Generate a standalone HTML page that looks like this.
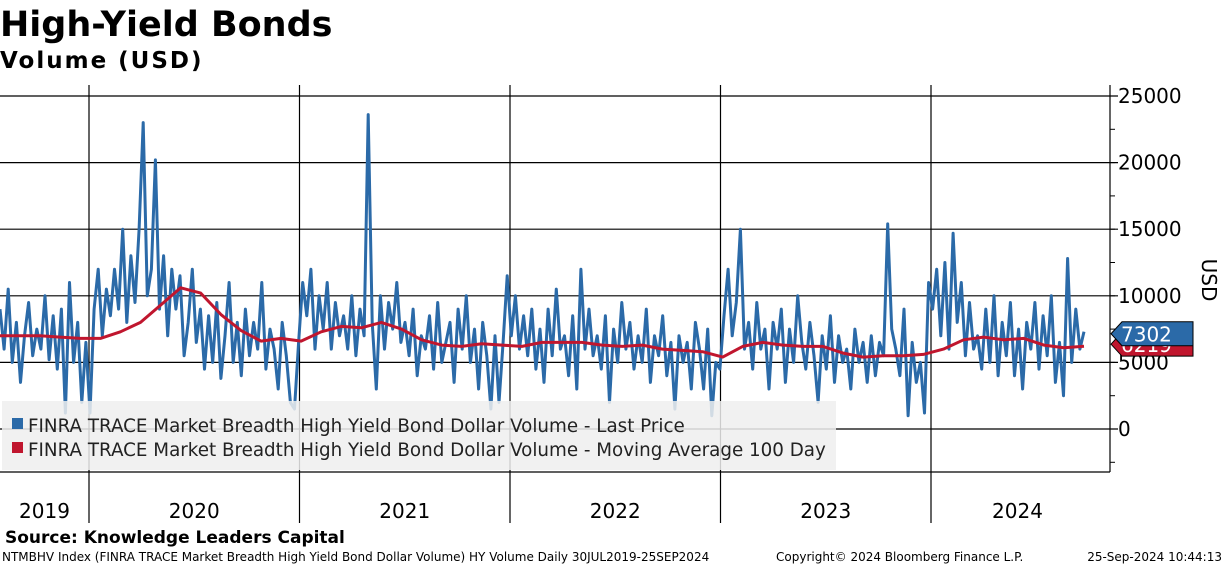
<!DOCTYPE html>
<html><head><meta charset="utf-8"><style>
body{margin:0;width:1224px;height:566px;background:#fff;overflow:hidden;font-family:"DejaVu Sans","Liberation Sans",sans-serif}
</style></head><body>
<svg id="chart" width="1224" height="566" xmlns="http://www.w3.org/2000/svg" font-family="DejaVu Sans, Liberation Sans, sans-serif">
<text x="0" y="36" font-size="35" font-weight="bold">High-Yield Bonds</text>
<text x="0" y="68" font-size="23" font-weight="bold" letter-spacing="2">Volume (USD)</text>
<g id="grid"></g>
<g id="series"></g>
<rect x="2" y="401" width="834" height="69" fill="rgb(238,238,238)" fill-opacity="0.85"/>
<rect x="12" y="418" width="11" height="11" fill="#2b6aa8"/>
<text x="28" y="432" font-size="18.3" fill="#222">FINRA TRACE Market Breadth High Yield Bond Dollar Volume - Last Price</text>
<rect x="12" y="442" width="11" height="11" fill="#c0162e"/>
<text x="28" y="456" font-size="18.3" fill="#222">FINRA TRACE Market Breadth High Yield Bond Dollar Volume - Moving Average 100 Day</text>
<g id="axis"></g>
<text transform="translate(1202,280) rotate(90)" font-size="20" text-anchor="middle">USD</text>
<g id="years"></g>
<text x="5" y="543" font-size="17" font-weight="bold">Source: Knowledge Leaders Capital</text>
<text x="2" y="561" font-size="12">NTMBHV Index (FINRA TRACE Market Breadth High Yield Bond Dollar Volume) HY Volume  Daily 30JUL2019-25SEP2024</text>
<text x="776" y="561" font-size="12">Copyright© 2024 Bloomberg Finance L.P.</text>
<text x="1222" y="561" font-size="12" text-anchor="end">25-Sep-2024 10:44:13</text>
</svg>
<script>
const yTicks=[0,5000,10000,15000,20000,25000];
const yearLabels=["2019","2020","2021","2022","2023","2024"];
const yearStarts=[2019.577,2020,2021,2022,2023,2024];
const lastPrice=[9000,6000,10500,5000,8000,3500,7000,9500,5500,7500,
6000,10000,5200,8500,4500,9000,1200,11000,5000,8000,
2000,6500,1200,9000,12000,7000,10500,8500,12000,9000,
15000,8000,13000,9500,15000,23000,10000,12000,20200,9000,
13000,7000,12000,9000,11500,5500,8000,12000,6500,9000,
4500,8500,5000,9500,3800,7000,11000,5000,8000,4000,
9000,5500,8000,6000,11000,4500,7500,6000,3000,8000,
5500,2000,1500,6500,11000,8500,12000,6000,10000,7500,
11000,6000,9500,7000,8500,6000,10000,5500,9000,7000,
23600,8000,3000,10000,6000,9500,7500,11000,6500,8000,
5500,9000,4000,7000,6000,8500,4500,9500,5000,6500,
8000,3500,9000,6000,10000,5000,7500,3000,8000,5500,
1500,7000,2000,6500,11500,7000,10000,6000,8500,5500,
9000,4500,7500,3500,9000,5500,10500,6000,7000,4000,
8500,3000,12000,6000,9000,5500,7000,4500,8500,2000,
7500,5000,9500,6000,8000,4500,7000,5000,9000,3500,
7000,5500,8500,4000,6500,1500,7000,5000,6500,3000,
8000,6000,3000,7500,1000,5000,4500,8500,12000,7000,
9500,15000,6000,8000,4500,9500,6000,7500,3000,8000,
6000,9000,3500,7500,5000,10000,6500,4500,8000,5500,
2000,7000,4500,8500,3500,7000,5000,6000,3000,7500,
5000,6500,3500,7000,4000,6500,5500,15400,7500,6000,
4000,9000,1000,6500,3500,5000,1200,11000,9000,12000,
7000,12500,6000,14700,8000,11000,5500,9500,6000,7000,
4500,9000,5000,10000,4000,8000,5500,9500,4000,7500,
3000,8000,6000,9500,4500,8500,5500,10000,3500,6500,
2500,12800,5000,9000,6000,7302];
const movingAvg=[7000,7000,7000,6900,6800,6800,7300,8000,9300,10600,10200,8600,7400,6600,6800,6600,7300,7700,7600,8000,7500,6700,6300,6200,6400,6300,6200,6500,6500,6500,6300,6200,6300,6000,5900,5800,5400,6200,6500,6300,6200,6200,5700,5400,5500,5500,5600,6000,6700,6900,6700,6800,6300,6100,6219];
const tagLast=7302, tagMA=6219;
const NS="http://www.w3.org/2000/svg";
const X0=0,X1=1084,AX=1110,TOP=85,BOT=472;
const yS=v=>429-v*(333/25000);
const tS=t=>89+(t-2020)*210.5;
function mk(tag,attrs,parent){const e=document.createElementNS(NS,tag);for(const k in attrs)e.setAttribute(k,attrs[k]);parent.appendChild(e);return e;}
const grid=document.getElementById('grid'),axis=document.getElementById('axis'),years=document.getElementById('years'),series=document.getElementById('series');
yTicks.forEach(v=>{
 const l=mk('line',{x1:0,x2:AX+8,y1:yS(v),y2:yS(v),stroke:'#000','stroke-width':1.2},grid);
 
 
 const t=mk('text',{x:AX+8,y:yS(v)+7,'font-size':20},axis);t.textContent=v;
 
 
});
for(let v=-2500;v<=25000;v+=2500){const m=mk('line',{x1:AX,x2:AX+5,y1:yS(v),y2:yS(v),stroke:'#000'},axis);
 
 }
mk('line',{x1:AX,x2:AX,y1:TOP,y2:BOT,stroke:'#000','stroke-width':1.2},axis);
mk('line',{x1:0,x2:AX,y1:BOT,y2:BOT,stroke:'#000','stroke-width':1.2},axis);
yearStarts.forEach((s,i)=>{
 if(i>0){const l=mk('line',{x1:tS(s),x2:tS(s),y1:TOP,y2:523,stroke:'#000','stroke-width':1.2},grid);
 
 }
 const a=i==0?0:tS(s),b=i<yearStarts.length-1?tS(yearStarts[i+1]):X1+20;
 const t=mk('text',{x:(a+b)/2,y:518,'font-size':20,'text-anchor':'middle'},years);t.textContent=yearLabels[i];
 
 
});
function path(arr,color,name){
 const n=arr.length;let d='';arr.forEach((v,i)=>{d+=(i?'L':'M')+(X0+(X1-X0)*i/(n-1)).toFixed(1)+','+yS(v).toFixed(1);});
 const p=mk('path',{d:d,fill:'none',stroke:color,'stroke-width':3,'stroke-linejoin':'round'},series);
 
 
}
path(lastPrice,'#2b6aa8','last-price-line');
path(movingAvg,'#c0162e','moving-average-line');
function tag(v,color,name,y){
 const g=mk('g',{},axis);
 
 
 mk('polygon',{points:`${AX+1},${y+12} ${AX+12},${y} ${AX+83},${y} ${AX+83},${y+24} ${AX+12},${y+24}`,fill:color,stroke:'#000','stroke-width':1},g);
 const t=mk('text',{x:AX+11,y:y+20,'font-size':20,fill:'#fff'},g);t.textContent=v;
}
tag(tagMA,'#c0162e','ma-value-tag',yS(tagMA)-14);
tag(tagLast,'#2b6aa8','last-value-tag',yS(tagLast)-10);
</script>
</body></html>
